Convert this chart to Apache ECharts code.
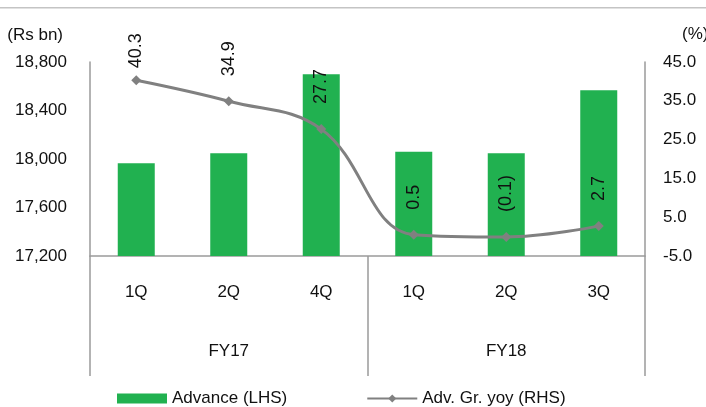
<!DOCTYPE html>
<html>
<head>
<meta charset="utf-8">
<script src="https://cdn.jsdelivr.net/npm/echarts@6/dist/echarts.min.js"></script>
<style>
  html, body { margin: 0; padding: 0; background: #fff; }
  #chart { width: 706px; height: 407px; }
</style>
</head>
<body>
<div id="chart"></div>
<script>
// Quarterly categories and their fiscal-year groups
var quarters = ['1Q', '2Q', '4Q', '1Q', '2Q', '3Q'];
var fiscalYears = ['FY17', 'FY18'];

// Advances outstanding (Rs bn) and year-on-year growth (%)
var advances = [17965, 18047, 18700, 18060, 18047, 18567];
var growthYoY = [40.3, 34.9, 27.7, 0.5, -0.1, 2.7];

// Left and right axis ranges
var leftTicks = { min: 17200, max: 18800, step: 400 };
var rightTicks = { min: -5, max: 45, step: 10 };

var FONT = "'Liberation Sans', Arial, Helvetica, sans-serif";
var AXIS_GREY = '#9a9a9a';

function fmtGrowth(v) {
  return v < 0 ? '(' + Math.abs(v).toFixed(1) + ')' : v.toFixed(1);
}

var chart = echarts.init(document.getElementById('chart'), null, { renderer: 'canvas' });

chart.setOption({
  animation: false,
  backgroundColor: '#ffffff',
  textStyle: { fontFamily: FONT },
  graphic: [{
    type: 'rect',
    left: 0, top: 7,
    shape: { width: 706, height: 1.5 },
    style: { fill: '#c4c4c4' }
  }],
  grid: { left: 90, right: 61, top: 62, bottom: 151, outerBoundsMode: 'none' },
  legend: {
    left: 112, top: 385,
    itemWidth: 50, itemHeight: 10, itemGap: 79,
    textStyle: { fontFamily: FONT, fontSize: 17, color: '#111' },
    data: [
      { name: 'Advance (LHS)', icon: 'rect' },
      { name: 'Adv. Gr. yoy (RHS)' }
    ]
  },
  xAxis: [{
    type: 'category',
    position: 'bottom',
    data: quarters,
    axisLine: { show: true, onZero: false, lineStyle: { color: AXIS_GREY, width: 1.5 } },
    axisTick: { show: false },
    axisLabel: { margin: 28, fontSize: 17, color: '#111', fontFamily: FONT }
  }, {
    type: 'category',
    position: 'bottom',
    data: fiscalYears,
    axisLine: { show: false, onZero: false },
    axisTick: { show: true, length: 120, lineStyle: { color: AXIS_GREY, width: 1.5 } },
    axisLabel: { margin: 87, fontSize: 17, color: '#111', fontFamily: FONT }
  }],
  yAxis: [{
    type: 'value',
    position: 'left',
    min: leftTicks.min, max: leftTicks.max, interval: leftTicks.step,
    name: '(Rs bn)',
    nameLocation: 'end',
    nameGap: 18,
    nameTextStyle: { fontSize: 17, color: '#111', align: 'right', padding: [0, 27, 0, 0], fontFamily: FONT },
    axisLine: { show: true, lineStyle: { color: AXIS_GREY, width: 1.5 } },
    axisTick: { show: false },
    splitLine: { show: false },
    axisLabel: {
      margin: 23, fontSize: 17, color: '#111', fontFamily: FONT,
      formatter: function (v) { return v.toLocaleString('en-US'); }
    }
  }, {
    type: 'value',
    position: 'right',
    min: rightTicks.min, max: rightTicks.max, interval: rightTicks.step,
    name: '(%)',
    nameLocation: 'end',
    nameGap: 19,
    nameTextStyle: { fontSize: 17, color: '#111', align: 'left', padding: [0, 0, 0, 37], fontFamily: FONT },
    axisLine: { show: true, lineStyle: { color: AXIS_GREY, width: 1.5 } },
    axisTick: { show: false },
    splitLine: { show: false },
    axisLabel: {
      margin: 18, fontSize: 17, color: '#111', fontFamily: FONT,
      formatter: function (v) { return v.toFixed(1); }
    }
  }],
  series: [{
    name: 'Advance (LHS)',
    type: 'bar',
    xAxisIndex: 0,
    yAxisIndex: 0,
    barWidth: '40%',
    itemStyle: { color: '#21b150' },
    data: advances
  }, {
    name: 'Adv. Gr. yoy (RHS)',
    type: 'line',
    xAxisIndex: 0,
    yAxisIndex: 1,
    smooth: 0.4,
    symbol: 'diamond',
    symbolSize: 10,
    lineStyle: { color: '#808080', width: 3 },
    itemStyle: { color: '#808080' },
    label: {
      show: true,
      position: 'top',
      rotate: 90,
      align: 'left',
      verticalAlign: 'middle',
      distance: 20,
      fontSize: 18,
      color: '#111',
      fontFamily: FONT,
      formatter: function (p) { return fmtGrowth(p.value); }
    },
    data: growthYoY.map(function (v, i) {
      // the highest point sits close to the top edge, so its label hugs the marker
      return i === 0 ? { value: v, label: { distance: 7 } } : v;
    })
  }]
});
</script>
</body>
</html>
